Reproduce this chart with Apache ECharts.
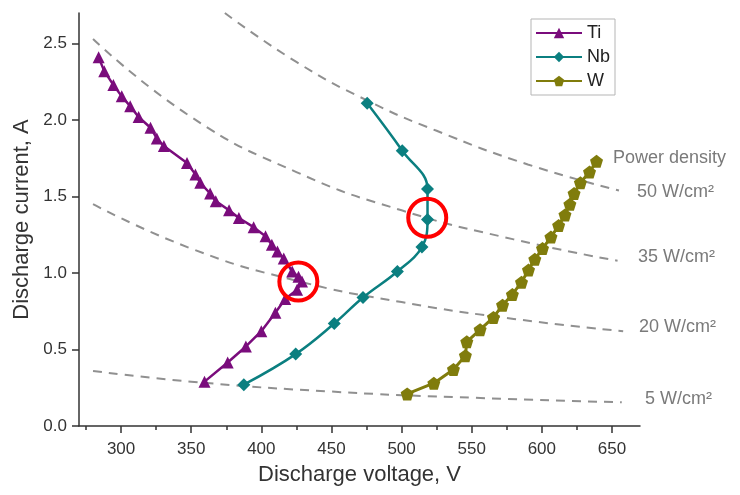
<!DOCTYPE html>
<html>
<head>
<meta charset="utf-8">
<script src="https://cdn.jsdelivr.net/npm/echarts@6/dist/echarts.min.js"></script>
<style>
  html, body { margin: 0; padding: 0; background: #fff; }
  #chart { width: 740px; height: 495px; }
</style>
</head>
<body>
<div id="chart"></div>
<script>
// values: voltage (V) / current (A)
var tiVoltage = [284, 288, 294.5, 300.5, 306.5, 312.5, 321, 325.5, 330.5, 347, 353, 356.5, 363.5, 367.5, 377, 384, 394.5, 403, 407.5, 411.5, 416, 422, 426.5, 429, 425.5, 417, 410, 400, 389, 376, 359.5];
var tiCurrent = [2.41, 2.32, 2.23, 2.155, 2.09, 2.02, 1.95, 1.88, 1.83, 1.72, 1.645, 1.59, 1.52, 1.47, 1.41, 1.36, 1.30, 1.24, 1.185, 1.14, 1.095, 1.01, 0.975, 0.945, 0.89, 0.83, 0.74, 0.62, 0.52, 0.415, 0.29];

var nbVoltage = [387.5, 424.5, 452, 472.5, 497, 514.5, 518.5, 518.5, 500.5, 475.5];
var nbCurrent = [0.27, 0.47, 0.67, 0.84, 1.01, 1.17, 1.35, 1.55, 1.80, 2.11];

var wVoltage = [504, 523, 537, 545.5, 546.5, 556, 565.5, 572, 579, 585.5, 590.5, 595, 600.5, 606.5, 612, 616.5, 620, 623, 627.5, 634, 639];
var wCurrent = [0.21, 0.28, 0.37, 0.46, 0.55, 0.63, 0.71, 0.79, 0.86, 0.94, 1.02, 1.09, 1.16, 1.235, 1.31, 1.38, 1.45, 1.52, 1.59, 1.66, 1.73];

// iso power density lines (dashed)
var p5Voltage = [280, 350, 450, 550, 657];
var p5Current = [0.36, 0.29, 0.225, 0.185, 0.155];
var p20Voltage = [280, 350, 425, 500, 580, 658];
var p20Current = [1.45, 1.16, 0.95, 0.81, 0.70, 0.62];
var p35Voltage = [280, 350, 425, 500, 580, 654];
var p35Current = [2.53, 2.02, 1.66, 1.41, 1.22, 1.08];
var p50Voltage = [374, 425, 475, 525, 590, 655];
var p50Current = [2.70, 2.38, 2.13, 1.93, 1.71, 1.54];

// red highlight circles
var circleTi = [426.4, 0.944];
var circleNb = [518.3, 1.361];

var xMajor = [300, 350, 400, 450, 500, 550, 600, 650];
var xMinor = [275, 325, 375, 425, 475, 525, 575, 625];
var yMajor = [0, 0.5, 1.0, 1.5, 2.0, 2.5];

function pairs(xs, ys) {
  var out = [];
  for (var i = 0; i < xs.length; i++) out.push([xs[i], ys[i]]);
  return out;
}

var font = "'Liberation Sans', Arial, sans-serif";
var pentagon = 'path://M50,0 L97.6,34.5 L79.4,90.5 L20.6,90.5 L2.4,34.5 Z';

function dashed(xs, ys) {
  return {
    type: 'line',
    data: pairs(xs, ys),
    smooth: true,
    showSymbol: false,
    silent: true,
    z: 1,
    lineStyle: { color: '#909090', width: 2, type: [9, 7] }
  };
}

function ring(coord) {
  return {
    symbol: 'circle',
    symbolSize: 38,
    silent: true,
    label: { show: false },
    itemStyle: { color: 'transparent', borderColor: '#ff0000', borderWidth: 4 },
    data: [{ coord: coord }]
  };
}

var chart = echarts.init(document.getElementById('chart'));

var option = {
  animation: false,
  backgroundColor: '#fff',
  textStyle: { fontFamily: font },
  grid: { left: 79, right: 100, top: 13, bottom: 69 },
  legend: {
    data: ['Ti', 'Nb', 'W'],
    orient: 'vertical',
    left: 531,
    top: 19,
    padding: [5, 5, 5, 4],
    itemGap: 6,
    itemWidth: 46,
    itemHeight: 13,
    borderColor: '#b5b5b5',
    borderWidth: 1,
    textStyle: { fontSize: 18, color: '#222', fontFamily: font }
  },
  xAxis: [
    {
      type: 'value',
      min: 270,
      max: 670,
      name: 'Discharge voltage, V',
      nameLocation: 'middle',
      nameGap: 38,
      nameTextStyle: { fontSize: 22, color: '#333', fontFamily: font },
      axisLine: { lineStyle: { color: '#333', width: 1.5 } },
      axisTick: { customValues: xMajor, length: 7, lineStyle: { color: '#333', width: 1.5 } },
      axisLabel: { customValues: xMajor, fontSize: 17, color: '#333', margin: 15 },
      splitLine: { show: false }
    },
    {
      type: 'value',
      min: 270,
      max: 670,
      position: 'bottom',
      axisLine: { show: false },
      axisTick: { customValues: xMinor, length: 4, lineStyle: { color: '#333', width: 1.5 } },
      axisLabel: { show: false },
      splitLine: { show: false }
    }
  ],
  yAxis: {
    type: 'value',
    min: 0,
    max: 2.7,
    name: 'Discharge current, A',
    nameLocation: 'middle',
    nameGap: 44,
    nameTextStyle: { fontSize: 22, color: '#333', fontFamily: font },
    axisLine: { show: true, lineStyle: { color: '#333', width: 1.5 } },
    axisTick: { show: true, customValues: yMajor, length: 7, lineStyle: { color: '#333', width: 1.5 } },
    axisLabel: {
      customValues: yMajor,
      fontSize: 17,
      color: '#333',
      margin: 12,
      formatter: function (v) { return v.toFixed(1); }
    },
    splitLine: { show: false }
  },
  series: [
    dashed(p5Voltage, p5Current),
    dashed(p20Voltage, p20Current),
    dashed(p35Voltage, p35Current),
    dashed(p50Voltage, p50Current),
    {
      name: 'Ti',
      type: 'line',
      data: pairs(tiVoltage, tiCurrent),
      symbol: 'triangle',
      symbolSize: 12,
      color: '#7a0c7c',
      lineStyle: { width: 2.5 },
      z: 3,
      markPoint: ring(circleTi)
    },
    {
      name: 'Nb',
      type: 'line',
      data: pairs(nbVoltage, nbCurrent),
      smooth: 0.4,
      symbol: 'diamond',
      symbolSize: 13,
      color: '#0b7f80',
      lineStyle: { width: 2.5 },
      z: 3,
      markPoint: ring(circleNb)
    },
    {
      name: 'W',
      type: 'line',
      data: pairs(wVoltage, wCurrent),
      symbol: pentagon,
      symbolSize: 13,
      color: '#807c0c',
      lineStyle: { width: 3 },
      z: 3
    }
  ],
  graphic: [
    { type: 'text', x: 613, y: 158, style: { text: 'Power density', fontSize: 18, fontFamily: font, fill: '#7a7a7a', verticalAlign: 'middle' } },
    { type: 'text', x: 637, y: 192, style: { text: '50 W/cm²', fontSize: 18, fontFamily: font, fill: '#7a7a7a', verticalAlign: 'middle' } },
    { type: 'text', x: 638, y: 257, style: { text: '35 W/cm²', fontSize: 18, fontFamily: font, fill: '#7a7a7a', verticalAlign: 'middle' } },
    { type: 'text', x: 639, y: 327, style: { text: '20 W/cm²', fontSize: 18, fontFamily: font, fill: '#7a7a7a', verticalAlign: 'middle' } },
    { type: 'text', x: 645, y: 399, style: { text: '5 W/cm²', fontSize: 18, fontFamily: font, fill: '#7a7a7a', verticalAlign: 'middle' } }
  ]
};

chart.setOption(option);
</script>
</body>
</html>
